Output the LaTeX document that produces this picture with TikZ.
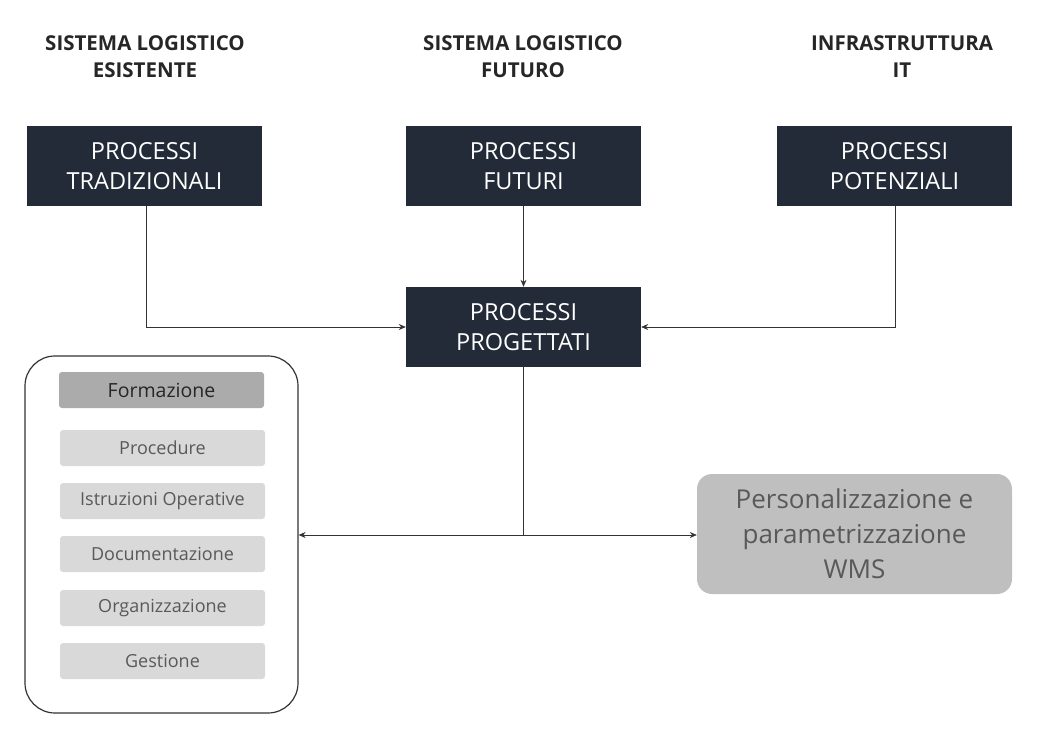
\documentclass[tikz,border=0pt]{standalone}
\usepackage{fontspec}
\setmainfont{Open Sans}
\usetikzlibrary{arrows.meta}
\definecolor{dark}{HTML}{232B38}
\definecolor{mid}{HTML}{ABABAB}
\definecolor{light}{HTML}{D9D9D9}
\definecolor{wms}{HTML}{BFBFBF}
\definecolor{txtg}{HTML}{595959}
\begin{document}
\begin{tikzpicture}[x=1pt,y=-1pt,
  dk/.style={fill=dark,text=white,minimum width=235pt,minimum height=80pt,align=center,font=\fontsize{23.5}{30}\selectfont,inner sep=0pt},
  hd/.style={font=\bfseries\fontsize{20.5}{27}\selectfont,align=center,text=black!85},
  lt/.style={fill=light,rounded corners=3pt,minimum width=205pt,minimum height=36pt,text=txtg,font=\fontsize{18}{18}\selectfont,inner sep=0pt},
  ar/.style={-{Stealth[length=7pt,width=6pt]},black!80,line width=0.7pt},
  ln/.style={black!80,line width=0.7pt}]
\useasboundingbox (0,0) rectangle (1058,730);
\node[hd] (h1) at (145,57) {SISTEMA LOGISTICO\\ESISTENTE};
\node[hd] (h2) at (523,57) {SISTEMA LOGISTICO\\FUTURO};
\node[hd] (h3) at (902,57) {INFRASTRUTTURA\\IT};
\node[dk] (a) at (144.5,166) {PROCESSI\\TRADIZIONALI};
\node[dk] (b) at (523.5,166) {PROCESSI\\FUTURI};
\node[dk] (c) at (894.5,166) {PROCESSI\\POTENZIALI};
\node[dk] (p) at (523.5,327) {PROCESSI\\PROGETTATI};
\node[draw=black!80,line width=1.2pt,rounded corners=30pt,minimum width=273pt,minimum height=357pt] (box) at (161.5,534.5) {};
\node[fill=mid,rounded corners=3pt,minimum width=205pt,minimum height=36pt,font=\fontsize{19.5}{20}\selectfont,text=black!85,inner sep=0pt] (f) at (161.5,390) {Formazione};
\node[lt] (l1) at (162.5,448) {Procedure};
\node[lt] (l2) at (162.5,501) {Istruzioni Operative};
\node[lt] (l3) at (162.5,554) {Documentazione};
\node[lt] (l4) at (162.5,608) {Organizzazione};
\node[lt] (l5) at (162.5,661) {Gestione};
\node[fill=wms,rounded corners=15pt,minimum width=315pt,minimum height=120pt,align=center,text=txtg,font=\fontsize{26}{35}\selectfont,inner sep=0pt] (w) at (854.5,534) {Personalizzazione e\\parametrizzazione\\WMS};
\coordinate (j) at (523.5,535);
\draw[ar] (146,206) |- (p.west);
\draw[ar] (895,206) |- (p.east);
\draw[ar] (b.south) -- (p.north);
\draw[ln] (p.south) -- (j);
\draw[ar] (j) -- (box.east |- j);
\draw[ar] (j) -- (w.west |- j);
\end{tikzpicture}
\end{document}
